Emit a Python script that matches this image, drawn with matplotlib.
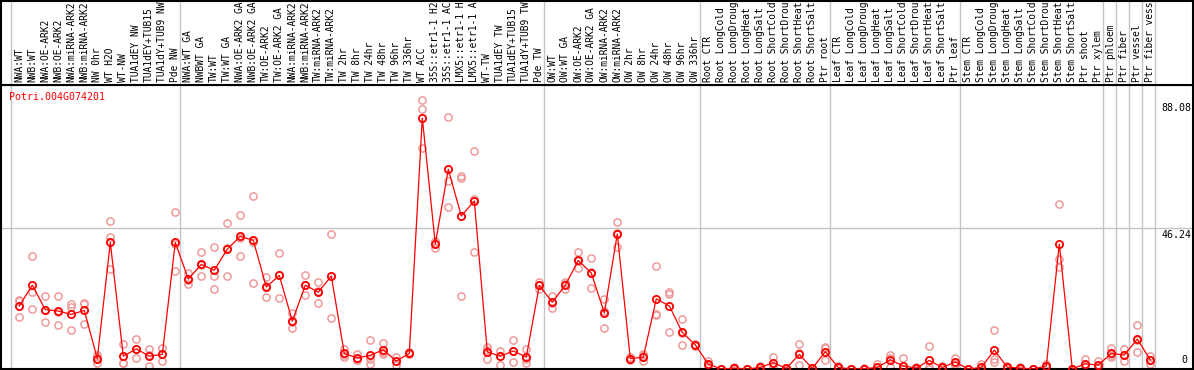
import matplotlib
matplotlib.use("Agg")
import matplotlib.pyplot as plt
import matplotlib.transforms as mtransforms

gene = "Potri.004G074201"

labels = [
    "NWA:WT", "NWB:WT", "NWA:OE-ARK2", "NWB:OE-ARK2", "NWA:miRNA-ARK2",
    "NWB:miRNA-ARK2", "NW 0hr", "WT H2O", "WT-NW", "TUA1dEY NW",
    "TUA1dEY+TUB15", "TUA1dY+TUB9 NW", "Pde NW",
    "NWA:WT GA", "NWBWT GA", "TW:WT", "TW:WT GA", "NWA:OE-ARK2 GA",
    "NWB:OE-ARK2 GA", "TW:OE-ARK2", "TW:OE-ARK2 GA", "NWA:miRNA-ARK2",
    "NWB:miRNA-ARK2", "TW:miRNA-ARK2", "TW:miRNA-ARK2", "TW 2hr", "TW 8hr",
    "TW 24hr", "TW 48hr", "TW 96hr", "TW 336hr", "WT ACC", "35S::etr1-1 H2",
    "35S::etr1-1 AC", "LMX5::etr1-1 H", "LMX5::etr1-1 A", "WT-TW",
    "TUA1dEY TW", "TUA1dEY+TUB15", "TUA1dY+TUB9 TW", "Pde TW",
    "OW:WT", "OW:WT GA", "OW:OE-ARK2", "OW:OE-ARK2 GA", "OW:miRNA-ARK2",
    "OW:miRNA-ARK2", "OW 2hr", "OW 8hr", "OW 24hr", "OW 48hr", "OW 96hr",
    "OW 336hr",
    "Root CTR", "Root LongCold", "Root LongDroug", "Root LongHeat",
    "Root LongSalt", "Root ShortCold", "Root ShortDrou", "Root ShortHeat",
    "Root ShortSalt", "Ptr root",
    "Leaf CTR", "Leaf LongCold", "Leaf LongDroug", "Leaf LongHeat",
    "Leaf LongSalt", "Leaf ShortCold", "Leaf ShortDrou", "Leaf ShortHeat",
    "Leaf ShortSalt", "Ptr leaf",
    "Stem CTR", "Stem LongCold", "Stem LongDroug", "Stem LongHeat",
    "Stem LongSalt", "Stem ShortCold", "Stem ShortDrou", "Stem ShortHeat",
    "Stem ShortSalt", "Ptr shoot", "Ptr xylem",
    "Ptr phloem", "Ptr fiber", "Ptr vessel", "Ptr fiber vess",
]

# first sample index of each group
group_starts = [0, 13, 41, 53, 63, 73, 84, 85, 86, 87, 88]

means = [
    20.7, 27.5, 19.5, 19.0, 17.9, 19.2, 3.4, 41.5, 4.2, 6.6, 4.2, 4.8, 41.5,
    29.5, 34.3, 32.4, 39.3, 43.5, 42.2, 26.9, 30.7, 15.7, 27.5, 25.2, 30.5,
    5.1, 3.6, 4.5, 6.3, 2.6, 5.1, 82.3, 41.0, 65.5, 50.2, 55.1, 5.6, 4.2,
    5.9, 3.9, 27.4,
    21.9, 27.5, 35.6, 31.5, 18.4, 44.3, 3.4, 3.9, 23.0, 20.7, 12.0, 7.9,
    1.6, 0.0, 0.3, 0.0, 0.5, 2.1, 0.2, 4.8, 0.2, 5.7,
    0.5, 0.0, 0.1, 0.5, 3.0, 1.0, 0.3, 2.8, 0.5, 2.3,
    0.0, 0.5, 6.2, 0.6, 0.3, 0.0, 1.0, 41.0, 0.0, 1.7, 1.3,
    5.1, 4.6, 9.8, 3.0,
]

rep1 = [
    22.6, 37.0, 23.9, 23.9, 21.3, 21.7, 4.5, 48.4, 8.2, 9.7, 6.6, 7.0, 51.5,
    31.4, 38.3, 39.9, 47.8, 50.4, 56.6, 30.1, 38.0, 18.3, 30.7, 28.4, 44.3,
    6.7, 4.9, 9.5, 8.4, 4.0, 5.5, 88.08, 42.0, 82.6, 63.4, 71.5, 7.3, 6.0,
    9.5, 6.5, 28.5,
    23.9, 28.4, 38.3, 36.3, 22.9, 48.1, 4.0, 5.0, 33.7, 25.4, 16.4, 8.2,
    2.5, 0.0, 0.6, 0.0, 1.0, 3.8, 0.4, 8.1, 0.4, 7.0,
    1.0, 0.0, 0.2, 1.5, 4.5, 3.7, 0.6, 7.5, 1.0, 3.7,
    0.0, 1.6, 12.8, 1.0, 0.6, 0.0, 1.5, 54.0, 0.0, 3.2, 2.5,
    7.0, 6.5, 14.3, 4.4,
]

rep2 = [
    22.3, 25.4, 19.3, 18.7, 20.4, 21.3, 3.8, 43.4, 2.0, 6.6, 4.5, 5.0, 41.0,
    29.3, 34.2, 30.4, 39.7, 43.0, 41.8, 27.1, 30.9, 15.5, 27.5, 25.7, 30.6,
    4.6, 3.0, 3.3, 5.6, 2.5, 5.0, 85.2, 41.4, 61.7, 62.7, 55.8, 6.3, 4.3,
    5.9, 3.2, 27.5,
    21.7, 28.0, 35.5, 31.7, 18.9, 44.7, 3.2, 4.2, 17.9, 24.5, 11.8, 7.9,
    1.2, 0.0, 0.2, 0.0, 0.5, 2.1, 0.1, 5.1, 0.2, 7.1,
    0.3, 0.0, 0.1, 0.0, 3.7, 0.0, 0.2, 0.8, 0.3, 1.8,
    0.0, 0.0, 3.4, 0.5, 0.2, 0.0, 1.0, 36.1, 0.0, 1.0, 1.0,
    4.5, 4.6, 9.6, 3.0,
]

rep3 = [
    16.9, 19.6, 15.3, 14.4, 12.7, 14.7, 1.9, 32.8, 1.9, 3.5, 0.9, 2.5, 32.0,
    27.8, 30.4, 26.3, 30.4, 37.1, 28.2, 23.5, 23.2, 13.3, 24.3, 21.5, 16.6,
    4.0, 2.9, 1.7, 4.9, 1.3, 4.8, 72.4, 39.6, 53.1, 23.9, 38.4, 3.2, 1.3,
    2.2, 2.0, 26.2,
    20.1, 26.1, 33.0, 26.5, 13.4, 40.1, 3.0, 2.5, 17.6, 12.0, 7.8, 7.6,
    1.1, 0.0, 0.1, 0.0, 0.0, 0.5, 0.1, 1.2, 0.0, 3.0,
    0.2, 0.0, 0.0, 0.0, 0.8, 0.0, 0.1, 0.1, 0.2, 1.4,
    0.0, 0.0, 2.3, 0.3, 0.1, 0.0, 0.5, 33.5, 0.0, 1.0, 0.4,
    3.8, 2.7, 5.5, 1.5,
]

y_ticks = [0, 46.24, 88.08]

W, H = 1194, 370
fig = plt.figure(figsize=(W / 100, H / 100), dpi=100)

# pixel layout
left_px, right_px = 1, 1193
header_px = 85
x0_px, step_px = 19.3, 13.0
xmin = (left_px - x0_px) / step_px
xmax = (right_px - x0_px) / step_px
ymax = 93.15
plot_w = (right_px - left_px) / W

ax = fig.add_axes([left_px / W, 1 / H, plot_w, (H - header_px - 1) / H])
hx = fig.add_axes([left_px / W, 1 - header_px / H, plot_w, (header_px - 1) / H],
                  sharex=ax)

xs = list(range(len(labels)))
grid_col = "#c4c4c4"
bounds = [g - 0.64 for g in group_starts]

for a in (ax, hx):
    a.set_xlim(xmin, xmax)
    for b in bounds:
        a.axvline(b, color=grid_col, lw=1.0, zorder=0)
    for s in a.spines.values():
        s.set_color("black")
        s.set_linewidth(1.5)
    a.tick_params(left=False, bottom=False, labelleft=False, labelbottom=False)

ax.set_ylim(0, ymax)
ax.axhline(y_ticks[1], color=grid_col, lw=1.0, zorder=0)

hx.set_ylim(0, 1)
for i, lab in enumerate(labels):
    hx.text(i, 0.03, lab, rotation=90, ha="center", va="bottom",
            fontsize=6.9, family="DejaVu Sans Mono", color="black")

pink = "#ee9a9a"
for reps in (rep1, rep2, rep3):
    ax.plot(xs, reps, ls="none", marker="o", ms=5.2, mfc="none", mec=pink,
            mew=1.1, zorder=2)

ax.plot(xs, means, color="red", lw=0.9, marker="o", ms=5.2, mfc="none",
        mec="red", mew=1.3, zorder=3)

trans = mtransforms.blended_transform_factory(ax.transAxes, ax.transData)
for v in y_ticks:
    if v == 0:
        ax.text(0.995, v + 1.2, "0", transform=trans, ha="right", va="bottom",
                fontsize=7.2, family="DejaVu Sans Mono")
    else:
        ax.text(0.999, v - 0.8, f"{v:.2f}", transform=trans, ha="right",
                va="top", fontsize=7.2, family="DejaVu Sans Mono")

ax.text(8 / (right_px - left_px), 1 - 12 / (H - header_px), gene,
        transform=ax.transAxes, ha="left", va="center", color="red",
        fontsize=7.2, family="DejaVu Sans Mono")

fig.savefig("out.png", dpi=100)
